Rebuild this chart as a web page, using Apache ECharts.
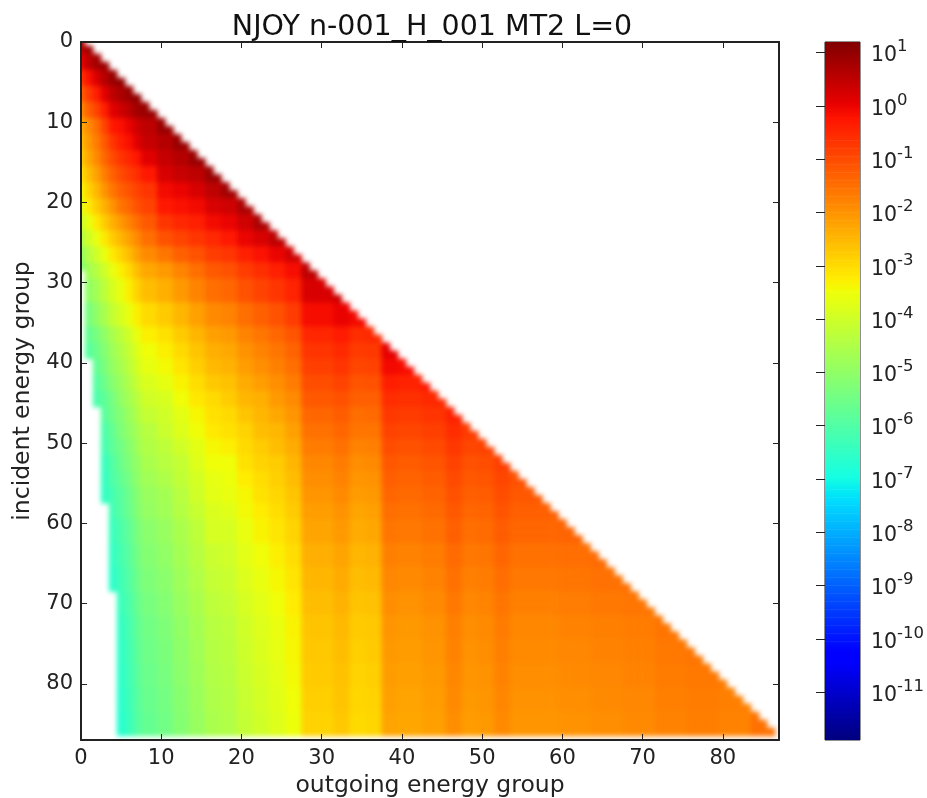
<!DOCTYPE html>
<html><head><meta charset="utf-8">
<script src="https://cdn.jsdelivr.net/npm/echarts@6/dist/echarts.min.js"></script>
<style>
html,body{margin:0;padding:0;background:#fff}
#wrap{position:relative;width:927px;height:798px;overflow:hidden}
#clip{position:absolute;left:81px;top:42px;width:698px;height:698px;overflow:hidden}
#heat{position:absolute;left:-81px;top:-42px;width:927px;height:798px;filter:blur(2.8px)}
#c{position:absolute;left:0;top:0;width:927px;height:798px}
</style>
</head><body><div id="wrap"><div id="clip"><div id="heat"></div></div><div id="c"></div></div>
<script>
// log10 of the matrix value
const groupCount = 87;
const colStarts = [0,1,2,3,4,5,6,7,8,10,12,14,16,18,20,22,24,26,28,30,32,34,36,38,40,43,46,48,50,52,54,57,60,64,68,72,76,80,84];
const rowStarts = [0,2,4,6,8,10,12,14,16,18,20,22,24,26,28,30,33,36,38,40,42,44,46,48,50,52,54,56,58,60,63,66,69,72,75,78,81,84];
// first row at which each of the left-most columns becomes empty
const emptyFromRow = [29,40,46,58,69];
const logValues = [
[.5,.9],
[0,.5,.8,.9],
[-.7,-.2,.2,.6,.9,1],
[-1.3,-.8,-.4,.1,.5,.7,.9,1],
[-1.9,-1.3,-.9,-.4,.1,.3,.5,.8,.9],
[-2.4,-1.9,-1.5,-.9,-.3,-.2,0,.3,.5,.9],
[-2.6,-2.1,-1.7,-1.2,-.7,-.4,-.2,.1,.4,.6,.9],
[-2.8,-2.3,-1.9,-1.4,-1,-.7,-.5,-.3,.1,.4,.6,.9],
[-3.1,-2.6,-2.2,-1.7,-1.3,-1,-.8,-.6,-.3,.2,.4,.5,.9],
[-3.4,-2.9,-2.5,-2,-1.6,-1.3,-1.1,-.9,-.7,-.1,0,.2,.5,.8],
[-3.7,-3.2,-2.8,-2.4,-2,-1.6,-1.4,-1.1,-.9,-.3,-.2,-.1,.2,.3,.7],
[-4.1,-3.6,-3.2,-2.8,-2.4,-2.1,-1.8,-1.5,-1.2,-.7,-.5,-.4,-.1,0,.3,.7],
[-4.5,-4,-3.6,-3.2,-2.8,-2.5,-2.2,-1.9,-1.5,-1.1,-.9,-.7,-.5,-.3,0,.2,.5],
[-5,-4.4,-4,-3.6,-3.2,-2.9,-2.6,-2.2,-1.9,-1.6,-1.3,-1.1,-.8,-.7,-.4,-.2,0,.3],
[-5.3,-4.7,-4.4,-4,-3.6,-3.3,-3,-2.6,-2.3,-2.1,-1.8,-1.5,-1.2,-1.1,-.8,-.6,-.4,-.15,.5],
[null,-5,-4.7,-4.3,-3.9,-3.6,-3.3,-2.9,-2.6,-2.4,-2.1,-1.8,-1.5,-1.4,-1.1,-.9,-.7,-.45,.2,.2,.35],
[null,-5.4,-5,-4.6,-4.2,-3.9,-3.6,-3.3,-3,-2.8,-2.5,-2.2,-1.9,-1.8,-1.5,-1.3,-1.1,-.8,-.15,-.15,0,-.1],
[null,-5.7,-5.4,-5,-4.6,-4.3,-4,-3.6,-3.3,-3.1,-2.8,-2.5,-2.2,-2.1,-1.8,-1.6,-1.4,-1.15,-.5,-.5,-.35,-.6,-.55],
[null,-5.9,-5.6,-5.2,-4.8,-4.5,-4.2,-3.8,-3.5,-3.3,-3,-2.7,-2.4,-2.3,-2,-1.8,-1.6,-1.35,-.7,-.7,-.55,-.8,-.75,.05],
[null,null,-5.75,-5.35,-4.95,-4.65,-4.35,-3.95,-3.65,-3.45,-3.15,-2.85,-2.55,-2.45,-2.15,-1.95,-1.75,-1.5,-.85,-.85,-.7,-.95,-.9,-.1,-.15],
[null,null,-5.95,-5.55,-5.15,-4.85,-4.55,-4.15,-3.85,-3.65,-3.35,-3.05,-2.75,-2.65,-2.35,-2.15,-1.95,-1.7,-1.05,-1.05,-.9,-1.15,-1.1,-.4,-.45,-.3],
[null,null,-6.1,-5.8,-5.4,-5,-4.7,-4.4,-4,-3.9,-3.5,-3.2,-3,-2.8,-2.5,-2.4,-2.1,-1.9,-1.2,-1.2,-1.1,-1.3,-1.3,-.6,-.65,-.55],
[null,null,null,-5.9,-5.5,-5.2,-4.9,-4.5,-4.2,-4,-3.7,-3.4,-3.1,-3,-2.7,-2.5,-2.3,-2.05,-1.4,-1.4,-1.25,-1.5,-1.45,-.75,-.8,-.7,-.45],
[null,null,null,-6.1,-5.7,-5.3,-5,-4.7,-4.4,-4.1,-3.8,-3.5,-3.2,-3.1,-2.9,-2.6,-2.5,-2.2,-1.55,-1.55,-1.4,-1.6,-1.6,-.9,-.95,-.85,-.6,-.8],
[null,null,null,-6.2,-5.8,-5.5,-5.2,-4.8,-4.5,-4.3,-4,-3.7,-3.4,-3.3,-3,-2.8,-2.6,-2.35,-1.7,-1.7,-1.55,-1.8,-1.75,-1.05,-1.1,-1,-.75,-.95,-.9],
[null,null,null,-6.4,-6,-5.6,-5.3,-5,-4.6,-4.4,-4.2,-3.8,-3.5,-3.5,-3.1,-2.9,-2.8,-2.5,-1.85,-1.85,-1.7,-1.95,-1.9,-1.2,-1.25,-1.15,-.9,-1.1,-1.05,-.85],
[null,null,null,-6.45,-6.05,-5.75,-5.45,-5.05,-4.75,-4.55,-4.25,-3.95,-3.65,-3.55,-3.25,-3.05,-2.85,-2.6,-1.95,-1.95,-1.8,-2.05,-2,-1.3,-1.35,-1.25,-1,-1.2,-1.15,-.95,-1.1],
[null,null,null,-6.5,-6.2,-5.9,-5.6,-5.2,-4.9,-4.7,-4.4,-4,-3.7,-3.6,-3.4,-3.1,-2.95,-2.7,-2.05,-2.05,-1.9,-2.15,-2.1,-1.4,-1.45,-1.35,-1.1,-1.3,-1.25,-1.05,-1.2,-1.2],
[null,null,null,null,-6.25,-5.95,-5.65,-5.25,-4.95,-4.75,-4.45,-4.15,-3.85,-3.75,-3.45,-3.25,-3.05,-2.8,-2.15,-2.15,-2,-2.25,-2.2,-1.5,-1.55,-1.45,-1.2,-1.4,-1.35,-1.15,-1.3,-1.3],
[null,null,null,null,-6.4,-6.1,-5.8,-5.4,-5.1,-4.9,-4.6,-4.3,-3.9,-3.9,-3.6,-3.35,-3.15,-2.9,-2.25,-2.25,-2.1,-2.35,-2.3,-1.6,-1.65,-1.55,-1.3,-1.5,-1.45,-1.25,-1.4,-1.4,-1.35],
[null,null,null,null,-6.5,-6.2,-5.9,-5.5,-5.2,-5,-4.7,-4.4,-4.1,-4,-3.7,-3.5,-3.3,-3.05,-2.4,-2.4,-2.25,-2.5,-2.45,-1.75,-1.8,-1.7,-1.45,-1.65,-1.6,-1.4,-1.55,-1.55,-1.5,-1.45],
[null,null,null,null,-6.6,-6.3,-6,-5.6,-5.3,-5.1,-4.8,-4.5,-4.2,-4.1,-3.8,-3.6,-3.4,-3.15,-2.5,-2.5,-2.35,-2.6,-2.55,-1.85,-1.9,-1.8,-1.55,-1.75,-1.7,-1.5,-1.65,-1.65,-1.6,-1.55,-1.5],
[null,null,null,null,null,-6.4,-6.1,-5.7,-5.4,-5.2,-4.9,-4.6,-4.3,-4.2,-3.9,-3.7,-3.5,-3.25,-2.6,-2.6,-2.45,-2.7,-2.65,-1.95,-2,-1.9,-1.65,-1.85,-1.8,-1.6,-1.75,-1.75,-1.7,-1.65,-1.6],
[null,null,null,null,null,-6.5,-6.2,-5.8,-5.5,-5.3,-5,-4.7,-4.4,-4.3,-4,-3.8,-3.6,-3.35,-2.7,-2.7,-2.55,-2.8,-2.75,-2.05,-2.1,-2,-1.75,-1.95,-1.9,-1.7,-1.85,-1.85,-1.8,-1.75,-1.7,-1.6],
[null,null,null,null,null,-6.55,-6.25,-5.85,-5.55,-5.35,-5.05,-4.75,-4.45,-4.35,-4.05,-3.85,-3.65,-3.4,-2.75,-2.75,-2.6,-2.85,-2.8,-2.1,-2.15,-2.05,-1.8,-2,-1.95,-1.75,-1.9,-1.9,-1.85,-1.8,-1.75,-1.65,-1.6],
[null,null,null,null,null,-6.6,-6.3,-5.9,-5.6,-5.4,-5.1,-4.8,-4.5,-4.4,-4.1,-3.9,-3.7,-3.45,-2.8,-2.8,-2.65,-2.9,-2.85,-2.15,-2.2,-2.1,-1.85,-2.05,-2,-1.8,-1.95,-1.95,-1.9,-1.85,-1.8,-1.7,-1.65,-1.7],
[null,null,null,null,null,-6.65,-6.35,-5.95,-5.65,-5.45,-5.15,-4.85,-4.55,-4.45,-4.15,-3.95,-3.75,-3.5,-2.85,-2.85,-2.7,-2.95,-2.9,-2.2,-2.25,-2.15,-1.9,-2.1,-2.05,-1.85,-2,-2,-1.95,-1.9,-1.85,-1.75,-1.7,-1.75],
[null,null,null,null,null,-6.7,-6.4,-6,-5.7,-5.5,-5.2,-4.9,-4.6,-4.5,-4.2,-4,-3.8,-3.55,-2.9,-2.9,-2.75,-3,-2.95,-2.25,-2.3,-2.2,-1.95,-2.15,-2.1,-1.9,-2.05,-2.05,-2,-1.95,-1.9,-1.8,-1.72,-1.8,-1.55]
];
const axisTicks = [0,10,20,30,40,50,60,70,80];
const decadeTicks = [1,0,-1,-2,-3,-4,-5,-6,-7,-8,-9,-10,-11];
const logMin = -11.9, logMax = 1.2;

// matplotlib "jet" colormap
function jet(v){
  const t=Math.max(0,Math.min(1,(v-logMin)/(logMax-logMin)));
  const seg=(x,p)=>{for(let k=1;k<p.length;k++){if(x<=p[k][0]){const a=p[k-1],b=p[k];return a[1]+(b[1]-a[1])*(x-a[0])/(b[0]-a[0]);}}return p[p.length-1][1];};
  const r=seg(t,[[0,0],[.35,0],[.66,1],[.89,1],[1,.5]]);
  const g=seg(t,[[0,0],[.125,0],[.375,1],[.64,1],[.91,0],[1,0]]);
  const b=seg(t,[[0,.5],[.11,1],[.34,1],[.65,0],[1,0]]);
  return 'rgb('+[r,g,b].map(c=>Math.round(c*255)).join(',')+')';
}

function lastIndexAtOrBelow(list,x){let r=0;for(let k=0;k<list.length;k++){if(list[k]<=x)r=k;}return r;}
const cells=[];
for(let i=0;i<groupCount;i++){
  let first=0;emptyFromRow.forEach(r=>{if(i>=r)first++;});
  const row=logValues[lastIndexAtOrBelow(rowStarts,i)];
  for(let j=first;j<=i;j++){
    const v=row[lastIndexAtOrBelow(colStarts,j)];
    if(v!==null&&v!==undefined)cells.push([j,i,v]);
  }
}
const barCells=[];
for(let k=0;k<=262;k++)barCells.push([0,logMin+k*0.05,logMin+k*0.05]);

const FONT='"DejaVu Sans"';
const INK='#222';
// each matrix element is centred on its integer position
const renderCell=(p,api)=>{
  const a=api.coord([api.value(0)-.5,api.value(1)-.5]),b=api.coord([api.value(0)+.5,api.value(1)+.5]);
  return {type:'rect',shape:{x:Math.min(a[0],b[0])-.3,y:Math.min(a[1],b[1])-.3,width:Math.abs(b[0]-a[0])+.6,height:Math.abs(b[1]-a[1])+.6},style:{fill:jet(api.value(2))}};
};
const renderBar=(p,api)=>{
  const a=api.coord([0,api.value(1)]),b=api.coord([1,api.value(1)+0.05]);
  return {type:'rect',shape:{x:a[0],y:b[1]-.3,width:b[0]-a[0],height:a[1]-b[1]+.6},style:{fill:jet(api.value(2))}};
};
const mainAxis=(extra)=>Object.assign({type:'value',min:0,max:groupCount,splitLine:{show:false},z:5,
  axisLine:{show:true,onZero:false,lineStyle:{color:INK,width:2}},
  axisTick:{show:true,inside:true,length:6,customValues:axisTicks,lineStyle:{color:INK,width:1}},
  axisLabel:{show:true,customValues:axisTicks,color:INK,fontFamily:FONT,fontSize:21,margin:8}},extra);

// matrix layer, softened like the resampled image of the reference
const heat=echarts.init(document.getElementById('heat'),null,{renderer:'canvas'});
heat.setOption({
  animation:false,
  grid:{left:81,top:42,width:698,height:698,outerBoundsMode:'none'},
  xAxis:{type:'value',min:0,max:groupCount,show:false},
  yAxis:{type:'value',min:0,max:groupCount,inverse:true,show:false},
  series:[{type:'custom',data:cells,renderItem:renderCell,encode:{x:0,y:1},progressive:0,silent:true,clip:false}]
});

// axes, titles and colour bar
const chart=echarts.init(document.getElementById('c'),null,{renderer:'canvas'});
chart.setOption({
  animation:false,backgroundColor:'transparent',
  title:{text:'NJOY n-001_H_001 MT2 L=0',left:427,top:8,textAlign:'center',textStyle:{fontFamily:FONT,fontSize:28.5,fontWeight:'normal',color:'#111'}},
  grid:[{left:81,top:42,width:698,height:698,outerBoundsMode:'none'},{left:825,top:42,width:35,height:698,show:true,borderColor:INK,borderWidth:1,outerBoundsMode:'none'}],
  xAxis:[
    mainAxis({gridIndex:0,position:'bottom',name:'outgoing energy group',nameLocation:'middle',nameGap:33,nameTextStyle:{fontFamily:FONT,fontSize:23.5,color:INK}}),
    mainAxis({gridIndex:0,position:'top',axisLabel:{show:false}}),
    {type:'value',gridIndex:1,min:0,max:1,show:false}
  ],
  yAxis:[
    mainAxis({gridIndex:0,position:'left',inverse:true,name:'incident energy group',nameLocation:'middle',nameGap:45,nameTextStyle:{fontFamily:FONT,fontSize:23.5,color:INK}}),
    mainAxis({gridIndex:0,position:'right',inverse:true,axisLabel:{show:false}}),
    {type:'value',gridIndex:1,position:'right',min:logMin,max:logMax,splitLine:{show:false},z:5,
     axisLine:{show:false},
     axisTick:{show:true,inside:true,length:9,customValues:decadeTicks,lineStyle:{color:INK,width:1}},
     axisLabel:{show:true,customValues:decadeTicks,margin:11,color:INK,fontFamily:FONT,fontSize:20.5,
       formatter:v=>'{b|10}{s|'+Math.round(v)+'}',
       rich:{b:{fontFamily:FONT,fontSize:20.5,color:INK,verticalAlign:'bottom',lineHeight:20},
             s:{fontFamily:FONT,fontSize:16.5,color:INK,verticalAlign:'top',lineHeight:28}}}}
  ],
  series:[
    {type:'custom',xAxisIndex:2,yAxisIndex:2,data:barCells,renderItem:renderBar,encode:{x:0,y:1},progressive:0,silent:true,clip:true}
  ]
});
</script></body></html>
